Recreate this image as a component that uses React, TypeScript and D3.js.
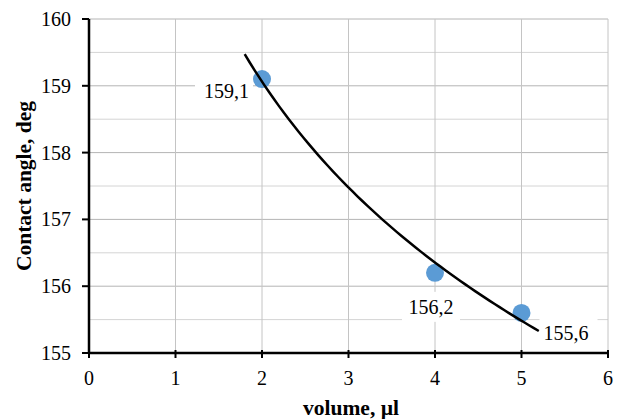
import * as d3 from 'd3';
import React from 'react';

// measured points
const volumes = [2, 4, 5];
const angles = [159.1, 156.2, 155.6];
const pointLabels = ['159,1', '156,2', '155,6'];

const xTicks = [0, 1, 2, 3, 4, 5, 6];
const yTicks = [155, 156, 157, 158, 159, 160];
const yMinor = [155.5, 156.5, 157.5, 158.5, 159.5];

const xTitle = 'volume, µl';
const yTitle = 'Contact angle, deg';

// label placement relative to each point (layout only)
const labelPos = [
    {dx: -13, dy: 19, anchor: 'end'},
    {dx: -4, dy: 41, anchor: 'middle'},
    {dx: 22, dy: 27, anchor: 'start'},
];

const width = 618, height = 419;
const margin = {top: 19, right: 10, bottom: 66, left: 89};
const font = '"Liberation Serif", "Times New Roman", serif';

export default function App() {
    const x = d3.scaleLinear().domain([0, 6]).range([margin.left, width - margin.right]);
    const y = d3.scaleLinear().domain([155, 160]).range([height - margin.bottom, margin.top]);

    // logarithmic trendline (least squares on ln x), extended 0.2 both ways
    const lx = volumes.map(Math.log);
    const mx = d3.mean(lx);
    const my = d3.mean(angles);
    const sxy = d3.sum(lx, (d, i) => (d - mx) * (angles[i] - my));
    const sxx = d3.sum(lx, (d) => (d - mx) * (d - mx));
    const b = sxy / sxx;
    const a = my - b * mx;
    const x0 = d3.min(volumes) - 0.2, x1 = d3.max(volumes) + 0.2;
    const trend = d3.range(0, 61).map((i) => x0 + (x1 - x0) * i / 60);
    const line = d3.line()
        .x((d) => x(d))
        .y((d) => y(a + b * Math.log(d)));

    const left = x(0), right = x(6), top = y(160), bottom = y(155);

    return (
        <svg width={width} height={height} style={{position: 'absolute', left: 0, top: 0, background: 'white'}}
            fontFamily={font}>
            {/* minor horizontal grid */}
            {yMinor.map((t) => (
                <line key={'m' + t} x1={left} x2={right} y1={y(t)} y2={y(t)} stroke="#d4d4d4" strokeWidth={1} />
            ))}
            {/* major grid */}
            {yTicks.map((t) => (
                <line key={'gy' + t} x1={left} x2={right} y1={y(t)} y2={y(t)} stroke="#b4b4b4" strokeWidth={1} />
            ))}
            {xTicks.map((t) => (
                <line key={'gx' + t} x1={x(t)} x2={x(t)} y1={top} y2={bottom} stroke="#c4c4c4" strokeWidth={1} />
            ))}

            {/* label backgrounds */}
            {volumes.map((v, i) => {
                const p = labelPos[i];
                const w = 58, h = 30;
                const tx = x(v) + p.dx;
                const rx = p.anchor === 'end' ? tx - w + 4 : p.anchor === 'middle' ? tx - w / 2 : tx - 4;
                return (
                    <rect key={'bg' + i} x={rx} y={y(angles[i]) + p.dy - 22} width={w} height={h} fill="white" />
                );
            })}

            {/* axes */}
            <line x1={left} x2={left} y1={top} y2={bottom} stroke="black" strokeWidth={2.5} />
            <line x1={left - 1} x2={right + 1} y1={bottom} y2={bottom} stroke="black" strokeWidth={2.5} />
            {yTicks.map((t) => (
                <g key={'ty' + t}>
                    <line x1={left - 7} x2={left} y1={y(t)} y2={y(t)} stroke="black" strokeWidth={2} />
                    <text x={left - 18} y={y(t)} dy="0.35em" textAnchor="end" fontSize={20}>{t}</text>
                </g>
            ))}
            {xTicks.map((t) => (
                <g key={'tx' + t}>
                    <line x1={x(t)} x2={x(t)} y1={bottom - 3} y2={bottom + 5} stroke="black" strokeWidth={2} />
                    <text x={x(t)} y={bottom + 25} dy="0.35em" textAnchor="middle" fontSize={20}>{t}</text>
                </g>
            ))}

            {/* points */}
            {volumes.map((v, i) => (
                <circle key={'p' + i} cx={x(v)} cy={y(angles[i])} r={9} fill="#5b9bd5" />
            ))}

            {/* trendline */}
            <path d={line(trend)} fill="none" stroke="black" strokeWidth={2.5} />

            {/* data labels */}
            {volumes.map((v, i) => (
                <text key={'l' + i} x={x(v) + labelPos[i].dx} y={y(angles[i]) + labelPos[i].dy}
                    textAnchor={labelPos[i].anchor} fontSize={20}>{pointLabels[i]}</text>
            ))}

            {/* titles */}
            <text x={351} y={415} textAnchor="middle" fontSize={21.5} fontWeight="bold">{xTitle}</text>
            <text transform={`translate(31,${(top + bottom) / 2}) rotate(-90)`} textAnchor="middle"
                fontSize={21.5} fontWeight="bold">{yTitle}</text>
        </svg>
    );
}
